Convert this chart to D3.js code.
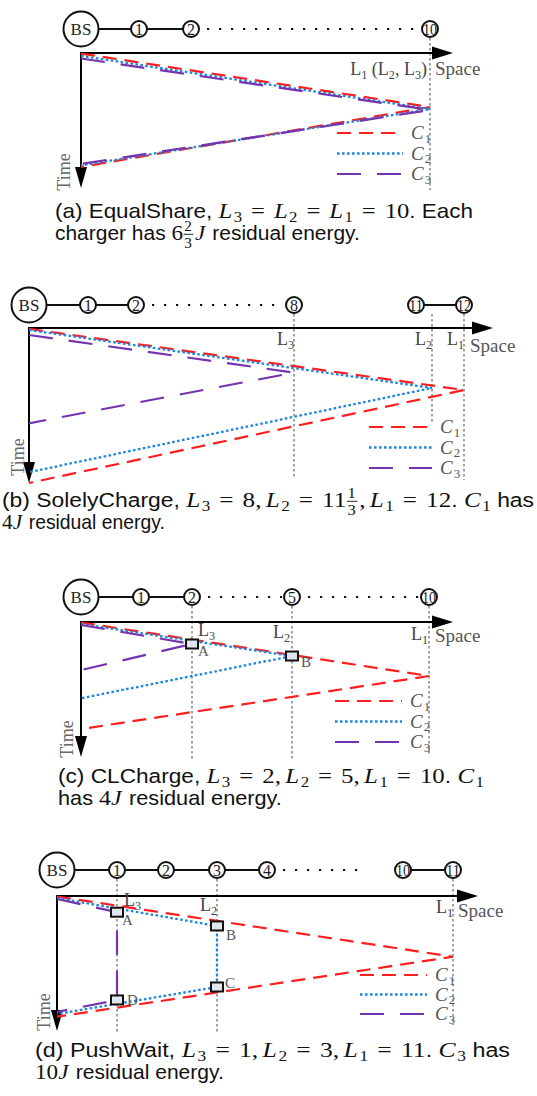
<!DOCTYPE html>
<html><head><meta charset="utf-8">
<script src="https://cdn.jsdelivr.net/npm/d3@7/dist/d3.min.js"></script>
<style>
body{margin:0;background:#fff}
svg{display:block}
.axis{stroke:#000;stroke-width:2;fill:none}
.head{fill:#000;stroke:none}
.guide{stroke:#8a8a8a;stroke-width:1.6;stroke-dasharray:2.5,2.5}
.link{stroke:#111;stroke-width:2}
.link.dotted{stroke-dasharray:2.2,9.8}
.node{fill:#fff;stroke:#111;stroke-width:2}
.trip{fill:none;stroke-width:2.2}
.c1{stroke:#ff1e1e;stroke-dasharray:14,8}
.c2{stroke:#1f86dc;stroke-dasharray:2.6,2.4;stroke-width:2.3}
.c3{stroke:#7434b0;stroke-dasharray:24,16}
.box{fill:#dfe6f0;stroke:#111;stroke-width:2}
</style></head>
<body><svg id="fig" width="537" height="1096"></svg>
<script>
const chargers = ["C1", "C2", "C3"];

// (a) EqualShare
const nodesA = [0, 1, 2, 10];
const chainA = [[0, 1, "solid"], [1, 2, "solid"], [2, 10, "dotted"]];
const reachA = [10, 10, 10];
const tripsA = [
  [[0, 0.04], [10, 4.0], [0, 8.44]],
  [[0, 0.22], [10, 4.15], [0, 8.33]],
  [[0, 0.41], [10, 4.22], [0, 8.22]]
];
const boxesA = [];

// (b) SolelyCharge
const nodesB = [0, 1, 2, 8, 11, 12];
const chainB = [[0, 1, "solid"], [1, 2, "solid"], [2, 8, "dotted"], [11, 12, "solid"]];
const reachB = [12, 11 + 1 / 3, 8];
const tripsB = [
  [[0, 0.06], [12, 4.0], [0, 10.0]],
  [[0, 0.13], [11 + 1 / 3, 3.87], [0, 9.3]],
  [[0, 0.45], [8, 2.88], [0, 6.15]]
];
const boxesB = [];

// (c) CLCharge
const nodesC = [0, 1, 2, 5, 10];
const chainC = [[0, 1, "solid"], [1, 2, "solid"], [2, 5, "dotted"], [5, 10, "dotted"]];
const reachC = [10, 5, 2];
const tripsC = [
  [[0, 0.04], [10, 4.0], [0, 7.93]],
  [[0, 0.15], [5, 2.52], [0, 5.65]],
  [[0, 0.22], [2, 1.63], [0, 3.56]]
];
const boxesC = [["A", 2, 1.63], ["B", 5, 2.52]];

// (d) PushWait
const nodesD = [0, 1, 2, 3, 4, 10, 11];
const chainD = [[0, 1, "solid"], [1, 2, "solid"], [2, 3, "solid"], [3, 4, "solid"], [4, 8.7, "dotted"], [10, 11, "solid"]];
const reachD = [11, 3, 1];
const tripsD = [
  [[0, 0.04], [11, 4.5], [0, 8.94]],
  [[0, 0.15], [3, 2.22], [3, 6.74], [0, 8.74]],
  [[0, 0.22], [1, 1.2], [1, 7.7], [0, 8.59]]
];
const boxesD = [["A", 1, 1.2], ["B", 3, 2.22], ["C", 3, 6.74], ["D", 1, 7.7]];

const timeMax = 10;

// captions (t: text, i: italic math, n: roman math, s: subscript, o: relation, h: thin space, f: fraction)
const capA = [
  ["t:(a) EqualShare, ", "i:L", "s:3", "o:=", "i:L", "s:2", "o:=", "i:L", "s:1", "o:=", "n:10", "t:. Each"],
  ["t:charger has ", "n:6", "f:2/3", "i:J", "t: residual energy."]
];
const capB = [
  ["t:(b) SolelyCharge, ", "i:L", "s:3", "o:=", "n:8,", "h:", "i:L", "s:2", "o:=", "n:11", "f:1/3", "n:,", "h:", "i:L", "s:1", "o:=", "n:12", "t:. ", "i:C", "s:1", "t: has"],
  ["n:4", "i:J", "t: residual energy."]
];
const capC = [
  ["t:(c) CLCharge, ", "i:L", "s:3", "o:=", "n:2,", "h:", "i:L", "s:2", "o:=", "n:5,", "h:", "i:L", "s:1", "o:=", "n:10", "t:. ", "i:C", "s:1"],
  ["t:has ", "n:4", "i:J", "t: residual energy."]
];
const capD = [
  ["t:(d) PushWait, ", "i:L", "s:3", "o:=", "n:1,", "h:", "i:L", "s:2", "o:=", "n:3,", "h:", "i:L", "s:1", "o:=", "n:11", "t:. ", "i:C", "s:3", "t: has"],
  ["n:10", "i:J", "t: residual energy."]
];

const SERIF = "'Liberation Serif','Times New Roman',serif";
const SANS = "'Liberation Sans',Arial,Helvetica,sans-serif";
const svg = d3.select("#fig");

// sequential rich text, returns the group
function rich(g, tokens, x, y, o) {
  const grp = g.append("g");
  const fs = o.size, ms = o.msize || o.size;
  let cx = 0;
  const put = (txt, fam, size, dy, italic) => grp.append("text").attr("x", cx).attr("y", dy)
    .style("font-family", fam).style("font-size", size + "px")
    .style("font-style", italic ? "italic" : "normal")
    .style("white-space", "pre")
    .attr("fill", o.color).text(txt);
  tokens.forEach(tok => {
    const k = tok[0], v = tok.slice(2);
    if (k === "f") {
      const [a, b] = v.split("/");
      const sz = ms * 0.66;
      const na = put(a, SERIF, sz, -ms * 0.4);
      const nb = put(b, SERIF, sz, ms * 0.38);
      const wa = na.node().getComputedTextLength(), wb = nb.node().getComputedTextLength();
      const w = Math.max(wa, wb) + 2;
      na.attr("x", cx + 1 + (w - 2 - wa) / 2);
      nb.attr("x", cx + 1 + (w - 2 - wb) / 2);
      grp.append("line").attr("x1", cx + 0.5).attr("x2", cx + w + 0.5)
        .attr("y1", -ms * 0.26).attr("y2", -ms * 0.26)
        .attr("stroke", o.color).attr("stroke-width", 0.9);
      cx += w + 2;
      return;
    }
    if (k === "h") { cx += ms * 0.17; return; }
    if (k === "o") { cx += ms * 0.36; }
    let t;
    if (k === "t") t = put(v, o.family, fs, 0, false);
    else if (k === "i") t = put(v, SERIF, ms, 0, true);
    else if (k === "s") t = put(v, SERIF, ms * 0.68, ms * 0.2, false);
    else t = put(v, SERIF, ms, 0, false);
    cx += t.node().getComputedTextLength();
    if (k === "o") cx += ms * 0.36;
    if (k === "i") cx += ms * 0.06;
  });
  const k = o.width ? o.width / cx : 1;
  const dx = o.anchor === "end" ? -cx : 0;
  grp.attr("transform", `translate(${x + dx},${y}) scale(${k},1)`);
  return grp;
}

function drawPanel(p) {
  const g = svg.append("g");
  const L = p.layout;
  const x = d3.scaleLinear().domain(p.nodes).range(L.xRange);
  const t = d3.scaleLinear().domain([0, timeMax]).range([L.axisY, L.timeTip]);
  const x0 = x(0);

  // guides at each distinct reach
  p.reach.forEach((r, i) => {
    if (p.reach.indexOf(r) !== i) return;
    g.append("line").attr("class", "guide")
      .attr("x1", x(r)).attr("x2", x(r))
      .attr("y1", L.chainY + 9).attr("y2", L.guideEnd[i]);
  });

  // chain
  p.chain.forEach(c => {
    const dotted = c[2] === "dotted";
    const a = x(c[0]) + (dotted ? 16 : 0), b = x(c[1]) - (dotted ? 10 : 0);
    g.append("line").attr("class", "link " + c[2])
      .attr("x1", a).attr("x2", b).attr("y1", L.chainY).attr("y2", L.chainY);
  });
  p.nodes.forEach(n => {
    const big = n === 0;
    g.append("circle").attr("class", "node")
      .attr("cx", x(n)).attr("cy", L.chainY).attr("r", big ? 17.5 : 8);
    const lab = g.append("text").attr("x", x(n)).attr("y", L.chainY + (big ? 6 : 5.5))
      .attr("text-anchor", "middle").style("font-family", SERIF)
      .style("font-size", big ? "17px" : "16px").attr("fill", "#222")
      .text(big ? "BS" : n);
    if (n >= 10) lab.attr("textLength", 14).attr("lengthAdjust", "spacingAndGlyphs");
  });

  // axes
  g.append("line").attr("class", "axis").attr("x1", x0 - 1).attr("x2", L.spaceTip - 18)
    .attr("y1", L.axisY).attr("y2", L.axisY);
  g.append("path").attr("class", "head")
    .attr("d", `M${L.spaceTip},${L.axisY}L${L.spaceTip - 21},${L.axisY - 6.5}L${L.spaceTip - 21},${L.axisY + 6.5}Z`);
  g.append("line").attr("class", "axis").attr("x1", x0).attr("x2", x0)
    .attr("y1", L.axisY).attr("y2", L.timeTip - 18);
  g.append("path").attr("class", "head")
    .attr("d", `M${x0},${L.timeTip}L${x0 - 6},${L.timeTip - 21}L${x0 + 6},${L.timeTip - 21}Z`);

  // axis words
  g.append("text").attr("x", L.space[0]).attr("y", L.space[1])
    .style("font-family", SERIF).style("font-size", "19px").attr("fill", "#555").text("Space");
  g.append("text").attr("transform", `translate(${L.time[0]},${L.time[1]}) rotate(-90)`)
    .attr("text-anchor", "middle").style("font-family", SERIF).style("font-size", "18px")
    .attr("fill", "#666").text("Time");

  // L labels
  L.labels.forEach(l => rich(g, l.tokens, l.x, l.y, {size: 18, family: SERIF, color: "#444", anchor: l.anchor}));

  // trajectories
  const line = d3.line().x(d => x(d[0])).y(d => t(d[1]));
  p.trips.forEach((tr, i) => {
    g.append("path").attr("class", "trip c" + (i + 1)).attr("d", line(tr));
  });

  // boxes
  p.boxes.forEach((b, i) => {
    g.append("rect").attr("class", "box")
      .attr("x", x(b[1]) - 6).attr("y", t(b[2]) - 4.5).attr("width", 12).attr("height", 9);
    const off = L.boxOff[i];
    g.append("text").attr("x", x(b[1]) + off[0]).attr("y", t(b[2]) + off[1])
      .style("font-family", SERIF).style("font-size", "15px").attr("fill", "#555").text(b[0]);
  });

  // legend
  chargers.forEach((c, i) => {
    const y = L.legend[2] + i * L.legend[3];
    g.append("line").attr("class", "trip c" + (i + 1))
      .attr("x1", L.legend[0]).attr("x2", L.legend[1]).attr("y1", y).attr("y2", y);
    rich(g, ["i:C", "s:" + c.slice(1)], L.legend[1] + 8, y + 6, {size: 19, family: SERIF, color: "#555"});
  });

  // caption
  p.caption.forEach((ln, i) => rich(svg, ln, L.cap[0], L.cap[1] + i * 22,
    {size: 20, msize: 22, family: SANS, color: "#111", width: L.capW[i]}));
}

drawPanel({
  nodes: nodesA, chain: chainA, reach: reachA, trips: tripsA, boxes: boxesA, caption: capA,
  layout: {
    chainY: 29, axisY: 53, spaceTip: 453, timeTip: 188, xRange: [81, 139, 191, 430],
    guideEnd: [190], space: [435, 75], time: [70, 172],
    labels: [{tokens: ["t:L", "s:1", "t: (L", "s:2", "t:, L", "s:3", "t:)"], x: 427, y: 75, anchor: "end"}],
    boxOff: [], legend: [337, 403, 133, 20.5], cap: [55, 218], capW: [418, 305]
  }
});
drawPanel({
  nodes: nodesB, chain: chainB, reach: reachB, trips: tripsB, boxes: boxesB, caption: capB,
  layout: {
    chainY: 305, axisY: 328, spaceTip: 493, timeTip: 483, xRange: [29, 88, 136, 294, 416, 464],
    guideEnd: [480, 422, 478], space: [470, 352], time: [24, 457],
    labels: [
      {tokens: ["t:L", "s:3"], x: 294, y: 345, anchor: "end"},
      {tokens: ["t:L", "s:2"], x: 432, y: 345, anchor: "end"},
      {tokens: ["t:L", "s:1"], x: 464, y: 345, anchor: "end"}
    ],
    boxOff: [], legend: [369, 432, 427, 20.5], cap: [2, 507], capW: [532, 163]
  }
});
drawPanel({
  nodes: nodesC, chain: chainC, reach: reachC, trips: tripsC, boxes: boxesC, caption: capC,
  layout: {
    chainY: 597, axisY: 622, spaceTip: 453, timeTip: 757, xRange: [81, 141, 192, 292, 429],
    guideEnd: [755, 760, 760], space: [435, 642], time: [73, 739],
    labels: [
      {tokens: ["t:L", "s:3"], x: 198, y: 636},
      {tokens: ["t:L", "s:2"], x: 290, y: 638, anchor: "end"},
      {tokens: ["t:L", "s:1"], x: 428, y: 640, anchor: "end"}
    ],
    boxOff: [[6, 12], [9, 11]], legend: [335, 402, 701, 20.5], cap: [58, 783], capW: [426, 224]
  }
});
drawPanel({
  nodes: nodesD, chain: chainD, reach: reachD, trips: tripsD, boxes: boxesD, caption: capD,
  layout: {
    chainY: 870, axisY: 896, spaceTip: 478, timeTip: 1031, xRange: [57, 117, 166, 217, 267, 403, 453],
    guideEnd: [1025, 1032, 1032], space: [458, 917], time: [50, 1012],
    labels: [
      {tokens: ["t:L", "s:3"], x: 124, y: 906},
      {tokens: ["t:L", "s:2"], x: 217, y: 911, anchor: "end"},
      {tokens: ["t:L", "s:1"], x: 453, y: 913, anchor: "end"}
    ],
    boxOff: [[5, 13], [9, 14], [8, 1], [10, 5]], legend: [360, 427, 975, 19.5], cap: [35, 1057], capW: [475, 189]
  }
});
</script>
</body></html>
